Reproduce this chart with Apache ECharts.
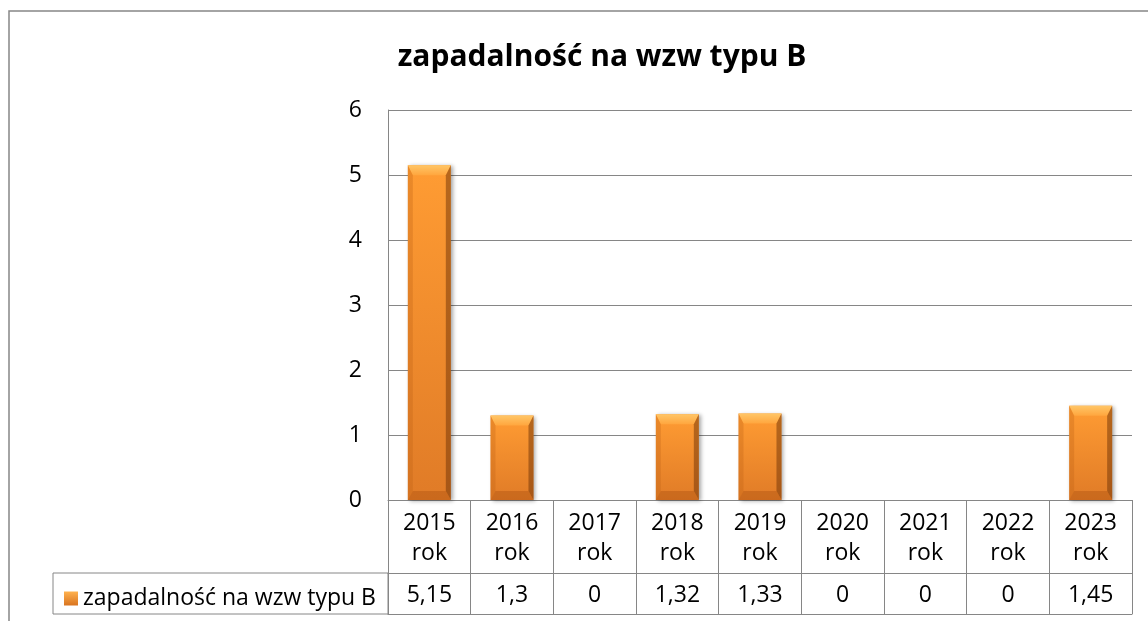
<!DOCTYPE html>
<html>
<head>
<meta charset="utf-8">
<script src="https://cdn.jsdelivr.net/npm/echarts@6/dist/echarts.min.js"></script>
<style>
  html, body { margin: 0; padding: 0; background: #fff; }
  #chart { width: 1148px; height: 621px; }
</style>
</head>
<body>
<div id="chart"></div>
<script>
// dane wykresu
const chartTitle = 'zapadalność na wzw typu B'
const seriesName = 'zapadalność na wzw typu B'
const years = ['2015', '2016', '2017', '2018', '2019', '2020', '2021', '2022', '2023']
const values = [5.15, 1.3, 0, 1.32, 1.33, 0, 0, 0, 1.45]
const yTicks = { min: 0, max: 6, interval: 1 }

const FONT = 'Open Sans'
const LINE = '#868686'

// etykiety tabeli danych
const headerLabels = years.map(y => y + '\nrok')
const valueLabels = values.map(v => String(v).replace('.', ','))

// słupek z fazą (imitacja efektu bevel z Excela)
function renderBevelBar(params, api) {
  const val = api.value(1)
  if (!val) return null
  const top = api.coord([api.value(0), val])
  const base = api.coord([api.value(0), 0])
  const bw = api.size([1, 0])[0] * 0.52
  const x0 = top[0] - bw / 2, x1 = top[0] + bw / 2
  const y0 = top[1], y1 = base[1]
  const bt = 10, bs = 5, bb = 9
  return {
    type: 'group',
    children: [
      {
        type: 'rect',
        shape: { x: x0, y: y0, width: bw, height: y1 - y0 },
        style: {
          fill: new echarts.graphic.LinearGradient(0, 0, 0, 1, [
            { offset: 0, color: '#FF9C33' },
            { offset: 1, color: '#E07B27' }
          ]),
          shadowColor: 'rgba(0,0,0,0.35)', shadowBlur: 4, shadowOffsetX: 2, shadowOffsetY: 1
        }
      },
      { // górna faza
        type: 'polygon',
        shape: { points: [[x0, y0], [x1, y0], [x1 - bs, y0 + bt], [x0 + bs, y0 + bt]] },
        style: {
          fill: new echarts.graphic.LinearGradient(0, 0, 0, 1, [
            { offset: 0, color: '#FFC667' },
            { offset: 1, color: '#FFA63E' }
          ])
        }
      },
      { // lewa krawędź
        type: 'polygon',
        shape: { points: [[x0, y0], [x0 + bs, y0 + bt], [x0 + bs, y1 - bb], [x0, y1]] },
        style: { fill: 'rgba(190,95,20,0.3)' }
      },
      { // prawa krawędź
        type: 'polygon',
        shape: { points: [[x1, y0], [x1 - bs, y0 + bt], [x1 - bs, y1 - bb], [x1, y1]] },
        style: { fill: 'rgba(110,50,5,0.5)' }
      },
      { // dolna faza
        type: 'polygon',
        shape: { points: [[x0, y1], [x1, y1], [x1 - bs, y1 - bb], [x0 + bs, y1 - bb]] },
        style: { fill: 'rgba(170,80,15,0.4)' }
      }
    ]
  }
}

const chart = echarts.init(document.getElementById('chart'))
chart.setOption({
  backgroundColor: '#fff',
  animation: false,
  textStyle: { fontFamily: FONT },
  grid: { left: 388, right: 16, top: 110, bottom: 121, containLabel: false },
  legend: {
    data: [seriesName],
    left: 59, top: 582,
    icon: 'rect', itemWidth: 14, itemHeight: 14, itemGap: 0,
    textStyle: { fontFamily: FONT, fontSize: 23, color: '#000' }
  },
  xAxis: [
    {
      type: 'category',
      data: headerLabels,
      position: 'bottom',
      axisLine: { show: true, lineStyle: { color: LINE, width: 1 } },
      axisTick: { show: true, interval: 0, length: 114, lineStyle: { color: LINE, width: 1 } },
      axisLabel: { interval: 0, margin: 8, fontSize: 23, lineHeight: 30, color: '#000', fontFamily: FONT },
      splitLine: { show: false }
    },
    {
      type: 'category',
      data: valueLabels,
      position: 'bottom',
      offset: 73,
      axisLine: { show: true, lineStyle: { color: LINE, width: 1 } },
      axisTick: { show: false },
      axisLabel: { interval: 0, margin: 8, fontSize: 23, lineHeight: 29, color: '#000', fontFamily: FONT }
    },
    {
      type: 'category',
      data: years,
      position: 'bottom',
      offset: 114,
      axisLine: { show: true, lineStyle: { color: LINE, width: 1 } },
      axisTick: { show: false },
      axisLabel: { show: false }
    }
  ],
  yAxis: {
    type: 'value',
    min: yTicks.min, max: yTicks.max, interval: yTicks.interval,
    axisLine: { show: true, lineStyle: { color: LINE, width: 1 } },
    axisTick: { show: false },
    axisLabel: { margin: 26, fontSize: 23, color: '#000', fontFamily: FONT },
    splitLine: { show: true, lineStyle: { color: LINE, width: 1 } }
  },
  graphic: [
    { // ramka obszaru wykresu
      type: 'rect', silent: true,
      shape: { x: 9, y: 11, width: 1200, height: 700 },
      style: { fill: 'none', stroke: LINE, lineWidth: 1.5 }
    },
    { // komórka legendy w tabeli danych
      type: 'rect', silent: true,
      shape: { x: 53, y: 573, width: 335, height: 41 },
      style: { fill: 'none', stroke: LINE, lineWidth: 1 }
    },
    {
      type: 'text', silent: true,
      x: 602, y: 57,
      style: {
        text: chartTitle, fill: '#000',
        font: 'bold 30px "Open Sans"',
        textAlign: 'center', textVerticalAlign: 'middle'
      }
    }
  ],
  series: [
    {
      name: seriesName,
      type: 'custom',
      xAxisIndex: 0,
      renderItem: renderBevelBar,
      encode: { x: 0, y: 1 },
      itemStyle: {
        color: new echarts.graphic.LinearGradient(0, 0, 0, 1, [
          { offset: 0, color: '#FFB24E' },
          { offset: 1, color: '#D97420' }
        ])
      },
      data: years.map((y, i) => [i, values[i]])
    }
  ]
})
</script>
</body>
</html>
